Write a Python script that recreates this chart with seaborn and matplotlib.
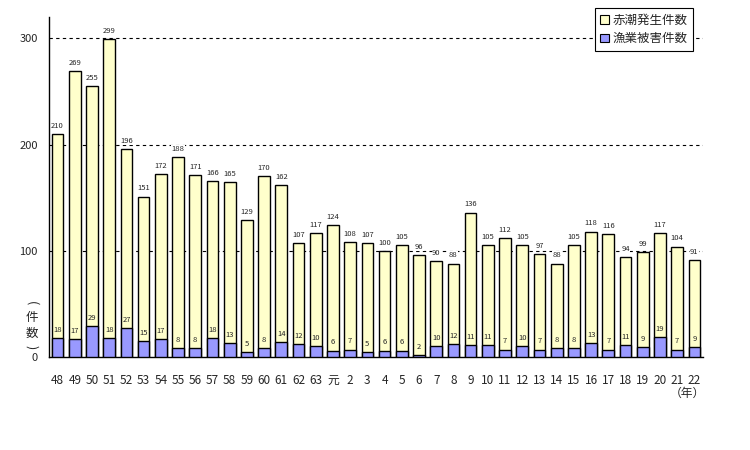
import matplotlib
matplotlib.use("Agg")
import matplotlib.pyplot as plt
import seaborn as sns
import pandas as pd
from matplotlib.patches import Patch

years = ["48", "49", "50", "51", "52", "53", "54", "55", "56", "57", "58", "59", "60",
         "61", "62", "63", "元", "2", "3", "4", "5", "6", "7", "8", "9", "10", "11",
         "12", "13", "14", "15", "16", "17", "18", "19", "20", "21", "22"]
occurrences = [210, 269, 255, 299, 196, 151, 172, 188, 171, 166, 165, 129, 170,
               162, 107, 117, 124, 108, 107, 100, 105, 96, 90, 88, 136, 105, 112,
               105, 97, 88, 105, 118, 116, 94, 99, 117, 104, 91]
damages = [18, 17, 29, 18, 27, 15, 17, 8, 8, 18, 13, 5, 8,
           14, 12, 10, 6, 7, 5, 6, 6, 2, 10, 12, 11, 11, 7,
           10, 7, 8, 8, 13, 7, 11, 9, 19, 7, 9]
series_names = ["赤潮発生件数", "漁業被害件数"]
yticks = [0, 100, 200, 300]

sns.set_theme(style="white")
plt.rcParams["font.family"] = ["Noto Sans CJK JP", "DejaVu Sans"]

df = pd.DataFrame({"year": years, "occ": occurrences, "dmg": damages})

fig = plt.figure(figsize=(7.5, 4.5), dpi=100)
ax = fig.add_axes([0.0653, 0.2067, 0.872, 0.7553])

yellow = "#FFFFCC"
blue = "#9999FF"

sns.barplot(data=df, x="year", y="occ", order=years, color=yellow, saturation=1,
            width=0.68, edgecolor="black", linewidth=1.0, ax=ax, zorder=2)
sns.barplot(data=df, x="year", y="dmg", order=years, color=blue, saturation=1,
            width=0.68, edgecolor="black", linewidth=1.0, ax=ax, zorder=3)

ax.set_ylim(0, 320)
ax.set_xlim(-0.5, len(years) - 0.5)
ax.set_yticks(yticks)
ax.set_yticklabels([str(v) for v in yticks], fontsize=8)
ax.tick_params(axis="y", length=0, pad=8)
ax.tick_params(axis="x", length=0, pad=12, labelsize=8.5)
ax.set_xlabel("")
ax.set_ylabel("")

for v in yticks[1:]:
    ax.axhline(v, color="black", linestyle=(0, (3, 3)), linewidth=0.8, zorder=1)

for s in ["top", "right"]:
    ax.spines[s].set_visible(False)
for s in ["left", "bottom"]:
    ax.spines[s].set_color("black")
    ax.spines[s].set_linewidth(1.0)

occ_bars = ax.containers[0]
dmg_bars = ax.containers[1]
ax.bar_label(occ_bars, labels=[str(v) for v in occurrences], padding=3, fontsize=5.5,
             zorder=4, bbox=dict(facecolor="white", edgecolor="none", pad=0.3))
ax.bar_label(dmg_bars, labels=[str(v) for v in damages], padding=3, fontsize=5.5, zorder=4)

# y-axis label (vertical, stacked characters)
xl = 0.042
fig.text(xl, 1 - 303 / 450, "(", ha="center", va="center", fontsize=9, rotation=-90)
fig.text(xl, 1 - 318 / 450, "件", ha="center", va="center", fontsize=9)
fig.text(xl, 1 - 333 / 450, "数", ha="center", va="center", fontsize=9)
fig.text(xl, 1 - 347 / 450, ")", ha="center", va="center", fontsize=9, rotation=-90)
# unit for x
fig.text(0.917, 0.125, "（年）", ha="center", va="center", fontsize=8.5)

handles = [Patch(facecolor=yellow, edgecolor="black", linewidth=0.8),
           Patch(facecolor=blue, edgecolor="black", linewidth=0.8)]
leg = ax.legend(handles, series_names, loc="upper right", bbox_to_anchor=(0.995, 1.045),
                fontsize=9, frameon=True, fancybox=False, edgecolor="black",
                handlelength=0.7, handleheight=0.7, handletextpad=0.3,
                borderpad=0.45, labelspacing=0.45, framealpha=1)
leg.get_frame().set_linewidth(0.8)

fig.savefig("out.png", dpi=100)
